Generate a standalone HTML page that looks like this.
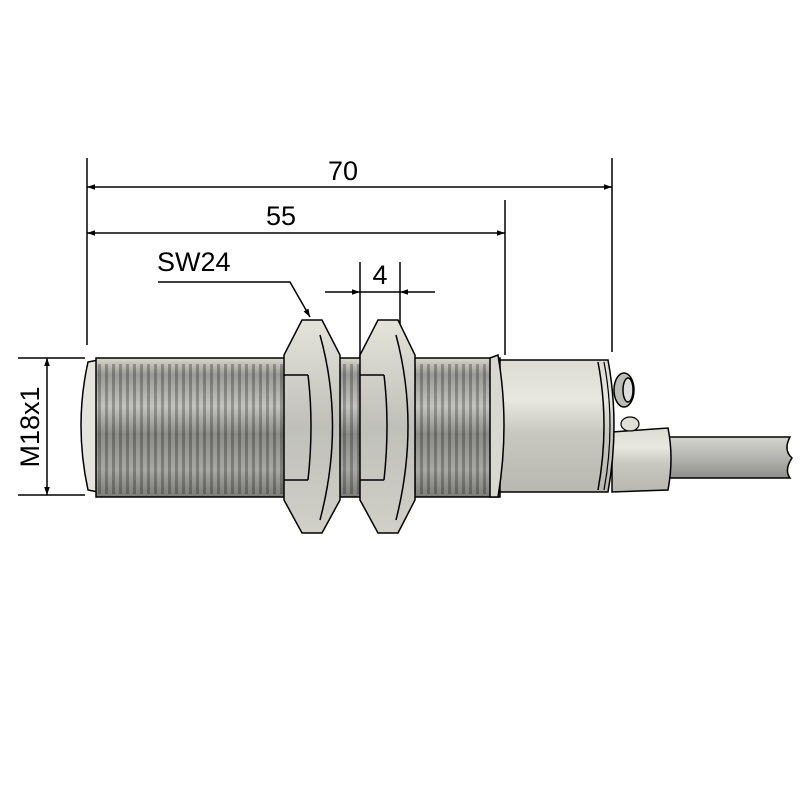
<!DOCTYPE html>
<html><head><style>html,body{margin:0;padding:0;background:#fff}</style></head><body>
<svg width="800" height="800" viewBox="0 0 800 800" xmlns="http://www.w3.org/2000/svg">
<defs>
<linearGradient id="vshade" x1="0" y1="0" x2="0" y2="1">
<stop offset="0" stop-color="#d8d8cc"/><stop offset="0.12" stop-color="#9a9a96"/><stop offset="0.35" stop-color="#c4c4c0"/><stop offset="0.55" stop-color="#8c8c88"/><stop offset="0.8" stop-color="#a8a8a4"/><stop offset="1" stop-color="#7c7c78"/>
</linearGradient>
<pattern id="thr" x="0" y="0" width="7" height="10" patternUnits="userSpaceOnUse">
<rect x="0" width="3" height="10" fill="#000" fill-opacity="0.25"/>
</pattern>
<linearGradient id="light" x1="0" y1="0" x2="0" y2="1">
<stop offset="0" stop-color="#dcdcd2"/><stop offset="0.3" stop-color="#e8e8e0"/><stop offset="0.55" stop-color="#c8c8c0"/><stop offset="1" stop-color="#b8b8b0"/>
</linearGradient>
<linearGradient id="nut" x1="0" y1="0" x2="0" y2="1">
<stop offset="0" stop-color="#e4e4da"/><stop offset="0.5" stop-color="#c0c0ba"/><stop offset="1" stop-color="#d0d0c8"/>
</linearGradient>
<linearGradient id="cab" x1="0" y1="0" x2="0" y2="1">
<stop offset="0" stop-color="#d6d6d0"/><stop offset="0.5" stop-color="#b4b4b0"/><stop offset="1" stop-color="#8e8e8a"/>
</linearGradient>
<marker id="ar" viewBox="0 0 10 10" refX="10" refY="5" markerWidth="10" markerHeight="8" orient="auto-start-reverse" markerUnits="userSpaceOnUse"><path d="M0,1.5 L10,5 L0,8.5z" fill="#000"/></marker>
</defs>
<g stroke="#000" stroke-width="1.5" fill="none">
<line x1="87" y1="158" x2="87" y2="345"/><line x1="612" y1="158" x2="612" y2="352"/><line x1="505" y1="200" x2="505" y2="355"/>
<line x1="87" y1="187" x2="612" y2="187" marker-start="url(#ar)" marker-end="url(#ar)"/>
<line x1="87" y1="233" x2="505" y2="233" marker-start="url(#ar)" marker-end="url(#ar)"/>
<line x1="360" y1="262" x2="360" y2="360"/><line x1="400" y1="262" x2="400" y2="360"/>
<line x1="325" y1="292" x2="360" y2="292" marker-end="url(#ar)"/><line x1="435" y1="292" x2="400" y2="292" marker-end="url(#ar)"/>
<line x1="360" y1="292" x2="400" y2="292"/>
<polyline points="158,282 290,282 310,317" marker-end="url(#ar)"/>
<line x1="18" y1="358" x2="85" y2="358"/><line x1="18" y1="495" x2="85" y2="495"/>
<line x1="47" y1="358" x2="47" y2="495" marker-start="url(#ar)" marker-end="url(#ar)"/>
</g>
<g font-family="Liberation Sans, sans-serif" font-size="27" fill="#000">
<text x="343" y="180" text-anchor="middle">70</text>
<text x="281" y="225" text-anchor="middle">55</text>
<text x="157" y="271">SW24</text>
<text x="380" y="284" text-anchor="middle">4</text>
<text transform="translate(39,427) rotate(-90)" text-anchor="middle">M18x1</text>
</g>
<path d="M665,437 L790,437 Q783,450 792,458 Q784,470 790,478 L665,478z" fill="url(#cab)" stroke="#000" stroke-width="1.5"/>
<path d="M612,432 L668,428 Q674,458 668,490 L612,492z" fill="url(#light)" stroke="#000" stroke-width="1.5"/>
<ellipse cx="624" cy="390" rx="10" ry="17" fill="#bcbcb6" stroke="#000" stroke-width="1.5"/>
<ellipse cx="628" cy="390" rx="5" ry="12" fill="#ddd" stroke="#000" stroke-width="1.5"/>
<ellipse cx="630" cy="424" rx="9" ry="7" fill="#e0e0d8" stroke="#000" stroke-width="1.2"/>
<path d="M496,360 L608,360 Q620,425 608,492 L496,492z" fill="url(#light)" stroke="#000" stroke-width="1.5"/>
<path d="M598,362 Q610,425 598,490" fill="none" stroke="#000" stroke-width="1.5"/>
<path d="M604,362 Q616,425 604,490" fill="none" stroke="#000" stroke-width="1.2"/>
<path d="M88,362 Q74,425 88,490 L98,492 L98,360z" fill="#e4e4dc" stroke="#000" stroke-width="1.5"/>
<rect x="96" y="358" width="404" height="139" fill="url(#vshade)" stroke="#000" stroke-width="1.5"/>
<rect x="98" y="364" width="396" height="130" fill="url(#thr)"/>
<path d="M490,358 L498,355 Q510,425 498,497 L490,497z" fill="#d8d8d0" stroke="#000" stroke-width="1.5"/>
<g stroke="#000" stroke-width="1.5">
<path d="M302,320 L322,320 L340,355 L340,500 L322,533 L302,533 L284,500 L284,355z" fill="url(#nut)"/>
<path d="M320,335 Q345,425 320,520" fill="none"/>
<line x1="284" y1="375" x2="308" y2="375"/><line x1="284" y1="480" x2="308" y2="480"/>
<path d="M308,375 Q314,425 308,480" fill="none"/>
<path d="M378,320 L398,320 L415,355 L415,500 L398,533 L378,533 L360,500 L360,355z" fill="url(#nut)"/>
<path d="M396,335 Q420,425 396,520" fill="none"/>
<line x1="360" y1="375" x2="384" y2="375"/><line x1="360" y1="480" x2="384" y2="480"/>
<path d="M384,375 Q390,425 384,480" fill="none"/>
</g>
</svg>
</body></html>
